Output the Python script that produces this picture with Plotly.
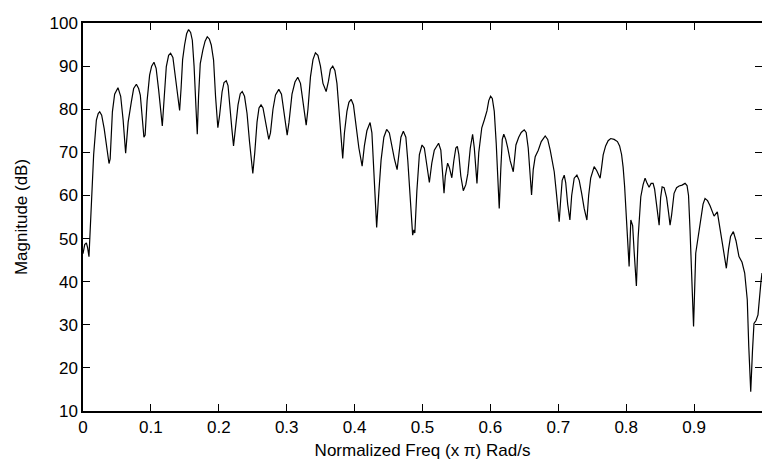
import plotly.graph_objects as go

# Normalized frequency (x pi rad/sample) and magnitude (dB)
freq = [0.0, 0.0025, 0.0050, 0.0069, 0.0088, 0.0113, 0.0135, 0.0157, 0.0197, 0.0224,
        0.0246, 0.0275, 0.0312, 0.0349, 0.0383, 0.0400, 0.0433, 0.0466, 0.0515, 0.0555,
        0.0591, 0.0628, 0.0665, 0.0712, 0.0746, 0.0786, 0.0819, 0.0844, 0.0871, 0.0897,
        0.0915, 0.0944, 0.0981, 0.1011, 0.1045, 0.1077, 0.1114, 0.1143, 0.1168, 0.1195,
        0.1227, 0.1261, 0.1290, 0.1324, 0.1356, 0.1393, 0.1423, 0.1445, 0.1467, 0.1496,
        0.1526, 0.1555, 0.1585, 0.1610, 0.1636, 0.1665, 0.1683, 0.1702, 0.1727, 0.1765,
        0.1798, 0.1830, 0.1861, 0.1889, 0.1923, 0.1952, 0.1986, 0.2011, 0.2048, 0.2077,
        0.2110, 0.2136, 0.2166, 0.2192, 0.2217, 0.2246, 0.2283, 0.2316, 0.2345, 0.2379,
        0.2416, 0.2452, 0.2501, 0.2530, 0.2563, 0.2592, 0.2622, 0.2651, 0.2688, 0.2736,
        0.2761, 0.2798, 0.2835, 0.2884, 0.2923, 0.2960, 0.3007, 0.3034, 0.3078, 0.3122,
        0.3163, 0.3203, 0.3240, 0.3287, 0.3313, 0.3350, 0.3387, 0.3423, 0.3460, 0.3497,
        0.3534, 0.3581, 0.3615, 0.3644, 0.3678, 0.3710, 0.3740, 0.3769, 0.3799, 0.3825,
        0.3850, 0.3887, 0.3916, 0.3949, 0.3983, 0.4005, 0.4022, 0.4063, 0.4111, 0.4144,
        0.4181, 0.4228, 0.4255, 0.4284, 0.4325, 0.4358, 0.4390, 0.4431, 0.4472, 0.4512,
        0.4542, 0.4586, 0.4626, 0.4652, 0.4682, 0.4718, 0.4755, 0.4784, 0.4821, 0.4855,
        0.4873, 0.4887, 0.4917, 0.4954, 0.4993, 0.5027, 0.5064, 0.5101, 0.5137, 0.5174,
        0.5237, 0.5270, 0.5292, 0.5317, 0.5336, 0.5370, 0.5395, 0.5432, 0.5461, 0.5491,
        0.5513, 0.5535, 0.5564, 0.5601, 0.5638, 0.5667, 0.5704, 0.5738, 0.5763, 0.5802,
        0.5829, 0.5873, 0.5910, 0.5949, 0.5976, 0.6003, 0.6028, 0.6057, 0.6086, 0.6108,
        0.6130, 0.6153, 0.6175, 0.6197, 0.6226, 0.6256, 0.6292, 0.6337, 0.6359, 0.6376,
        0.6417, 0.6454, 0.6498, 0.6527, 0.6557, 0.6579, 0.6606, 0.6631, 0.6660, 0.6705,
        0.6749, 0.6807, 0.6844, 0.6881, 0.6918, 0.6940, 0.6969, 0.6991, 0.7013, 0.7035,
        0.7057, 0.7087, 0.7109, 0.7138, 0.7171, 0.7197, 0.7234, 0.7274, 0.7308, 0.7344,
        0.7381, 0.7421, 0.7447, 0.7477, 0.7528, 0.7565, 0.7616, 0.7638, 0.7661, 0.7697,
        0.7734, 0.7772, 0.7822, 0.7871, 0.7903, 0.7932, 0.7955, 0.7977, 0.7999, 0.8021,
        0.8043, 0.8068, 0.8095, 0.8117, 0.8150, 0.8175, 0.8215, 0.8249, 0.8278, 0.8308,
        0.8337, 0.8367, 0.8396, 0.8418, 0.8447, 0.8485, 0.8507, 0.8529, 0.8558, 0.8595,
        0.8624, 0.8646, 0.8669, 0.8705, 0.8742, 0.8779, 0.8823, 0.8867, 0.8896, 0.8918,
        0.8940, 0.8962, 0.8992, 0.9024, 0.9058, 0.9095, 0.9132, 0.9161, 0.9198, 0.9235,
        0.9272, 0.9294, 0.9342, 0.9382, 0.9426, 0.9475, 0.9507, 0.9537, 0.9578, 0.9617,
        0.9661, 0.9706, 0.9745, 0.9783, 0.9805, 0.9834, 0.9860, 0.9882, 0.9912, 0.9941,
        0.9985, 1.0]

magnitude_db = [46.5, 48.6, 49.0, 47.8, 45.8, 55.0, 64.0, 69.5, 77.5, 79.0,
                79.4, 78.6, 75.5, 70.5, 67.4, 68.5, 79.4, 83.5, 85.0, 83.0,
                77.5, 69.8, 77.0, 81.7, 84.8, 85.8, 84.8, 83.3, 77.5, 73.5,
                74.0, 82.0, 87.9, 90.0, 90.9, 89.5, 84.5, 79.5, 76.1, 82.5,
                89.9, 92.5, 93.0, 92.0, 88.0, 83.0, 79.7, 85.0, 91.5, 94.9,
                97.5, 98.5, 97.8, 96.0, 90.0, 80.0, 74.2, 83.0, 90.6, 93.7,
                95.8, 96.8, 96.3, 94.9, 91.4, 83.0, 75.7, 78.5, 84.0, 86.2,
                86.6, 85.5, 81.0, 75.5, 71.5, 75.5, 81.0, 83.6, 84.1, 83.0,
                79.0, 72.5, 65.1, 70.0, 77.0, 80.3, 81.0, 80.3, 77.0, 73.0,
                74.5, 80.0, 83.3, 84.6, 83.5, 79.5, 74.0, 77.0, 83.5, 86.3,
                87.4, 86.0, 81.5, 76.3, 80.0, 87.5, 91.5, 93.1, 92.5, 90.0,
                86.0, 84.1, 86.5, 89.3, 90.0, 89.0, 86.0, 80.0, 73.0, 68.6,
                74.5, 79.5, 81.6, 82.3, 81.0, 78.0, 75.9, 71.0, 66.8, 71.5,
                75.0, 76.9, 74.5, 66.0, 52.6, 61.0, 68.2, 73.5, 75.3, 74.5,
                72.0, 68.5, 66.0, 69.5, 73.5, 74.9, 73.5, 68.0, 59.0, 50.8,
                52.0, 51.3, 61.0, 69.5, 71.7, 71.0, 67.0, 63.0, 67.5, 70.5,
                72.1, 70.5, 66.0, 60.5, 64.5, 67.5, 66.5, 64.1, 68.0, 71.0,
                71.4, 69.5, 64.5, 61.1, 62.5, 65.0, 71.0, 74.2, 71.0, 62.8,
                70.0, 75.7, 77.5, 79.6, 82.0, 83.0, 82.5, 79.5, 72.0, 64.0,
                57.0, 66.0, 73.0, 74.2, 73.0, 71.0, 68.0, 65.5, 69.0, 71.7,
                73.5, 74.6, 75.2, 74.6, 71.0, 65.0, 60.1, 66.0, 69.0, 70.5,
                72.5, 73.8, 73.0, 70.5, 67.0, 65.5, 61.0, 58.0, 53.9, 59.0,
                63.5, 64.7, 63.0, 58.0, 54.3, 60.0, 64.0, 64.7, 63.5, 60.5,
                57.0, 54.3, 60.0, 64.0, 66.7, 65.8, 64.0, 66.5, 69.4, 71.5,
                72.7, 73.2, 73.0, 72.5, 71.5, 69.5, 66.5, 62.0, 55.0, 49.0,
                43.5, 54.3, 53.0, 47.0, 39.0, 50.0, 59.7, 62.5, 64.0, 62.8,
                61.9, 62.8, 62.8, 61.5, 58.0, 53.1, 59.5, 62.0, 61.8, 59.5,
                56.0, 53.1, 55.5, 60.5, 61.8, 62.2, 62.4, 62.8, 62.3, 60.0,
                52.0, 40.0, 29.6, 46.6, 50.0, 54.5, 58.0, 59.3, 58.8, 57.6,
                55.8, 55.2, 56.2, 52.5, 47.5, 43.1, 47.5, 50.5, 51.6, 49.5,
                45.8, 44.5, 42.0, 35.8, 25.0, 14.5, 24.0, 30.3, 31.0, 32.3,
                40.0, 42.0]

x_ticks = [0, 0.1, 0.2, 0.3, 0.4, 0.5, 0.6, 0.7, 0.8, 0.9, 1]
x_tick_labels = ["0", "0.1", "0.2", "0.3", "0.4", "0.5", "0.6", "0.7", "0.8", "0.9", "1"]
y_ticks = [10, 20, 30, 40, 50, 60, 70, 80, 90, 100]

FONT = "Liberation Sans, Arial, Helvetica, sans-serif"

fig = go.Figure()
fig.add_trace(go.Scatter(
    x=freq, y=magnitude_db, mode="lines",
    line=dict(color="black", width=1.2),
    showlegend=False, hoverinfo="x+y",
))

fig.update_layout(
    width=762, height=463,
    margin=dict(l=83, r=0, t=23, b=52),
    paper_bgcolor="white", plot_bgcolor="white",
    font=dict(family=FONT, size=17, color="black"),
    showlegend=False,
    xaxis=dict(
        range=[0, 1], tickvals=x_ticks, ticktext=x_tick_labels,
        ticks="inside", ticklen=7, tickwidth=1, tickcolor="black",
        showline=True, linecolor="black", linewidth=1.5, mirror="ticks",
        showgrid=False, zeroline=False,
        title=dict(text="Normalized Freq (x π) Rad/s", font=dict(size=17), standoff=8),
        automargin=False,
    ),
    yaxis=dict(
        range=[10, 100], tickvals=y_ticks,
        ticks="inside", ticklen=7, tickwidth=1, tickcolor="black",
        showline=True, linecolor="black", linewidth=1.5, mirror="ticks",
        showgrid=False, zeroline=False,
        title=dict(text="Magnitude (dB)", font=dict(size=17), standoff=18),
        automargin=False,
    ),
)

# remove the default page margin and scrollbars so the figure fills the window exactly
fig.write_html(
    "out.html",
    config={"displayModeBar": False},
    post_script="document.body.style.margin='0';document.body.style.overflow='hidden';",
)
